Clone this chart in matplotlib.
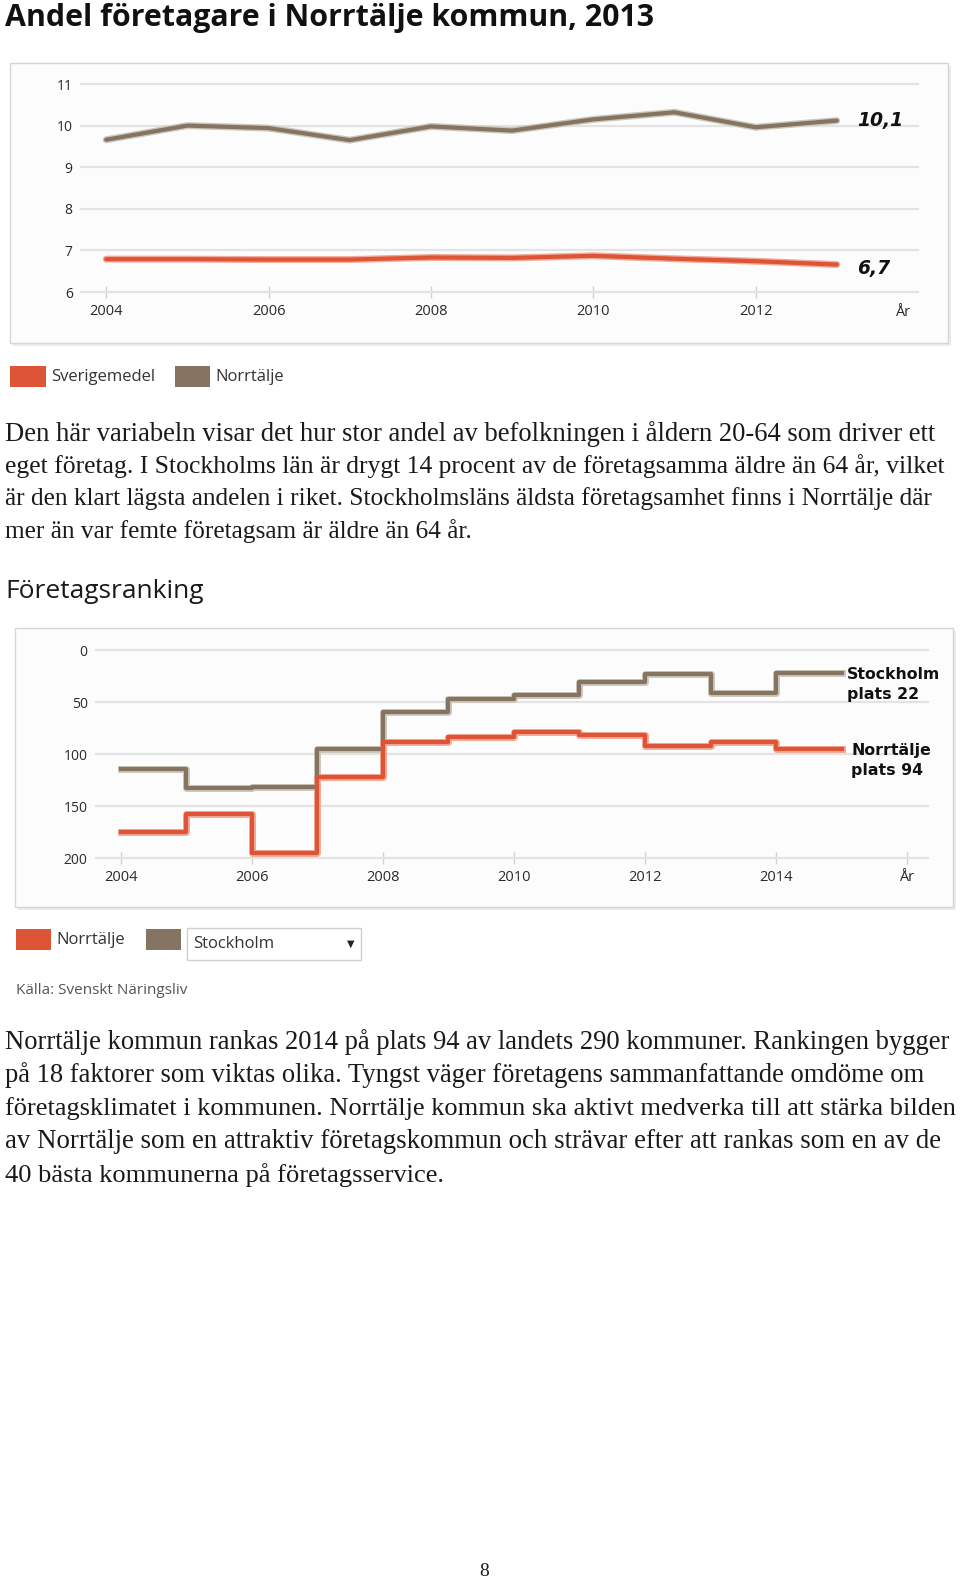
import numpy as np
import matplotlib.pyplot as plt
from matplotlib.patches import Rectangle

W, H = 960, 1582

# Andel företagare (procent av befolkningen 20-64)
years_andel = [2004, 2005, 2006, 2007, 2008, 2009, 2010, 2011, 2012, 2013]
norrtalje_andel = [9.66, 10.0, 9.94, 9.65, 9.98, 9.88, 10.15, 10.32, 9.96, 10.12]
sverige_andel = [6.79, 6.79, 6.78, 6.78, 6.83, 6.82, 6.87, 6.80, 6.74, 6.66]

# Företagsranking (plats)
years_rank = [2004, 2005, 2006, 2007, 2008, 2009, 2010, 2011, 2012, 2013, 2014]
norrtalje_rank = [175, 158, 195, 122, 88, 84, 79, 82, 92, 88, 95]
stockholm_rank = [114, 133, 132, 95, 60, 47, 43, 31, 23, 41, 22]

text1 = [
    "Den här variabeln visar det hur stor andel av befolkningen i åldern 20-64 som driver ett",
    "eget företag. I Stockholms län är drygt 14 procent av de företagsamma äldre än 64 år, vilket",
    "är den klart lägsta andelen i riket. Stockholmsläns äldsta företagsamhet finns i Norrtälje där",
    "mer än var femte företagsam är äldre än 64 år.",
]
text2 = [
    "Norrtälje kommun rankas 2014 på plats 94 av landets 290 kommuner. Rankingen bygger",
    "på 18 faktorer som viktas olika. Tyngst väger företagens sammanfattande omdöme om",
    "företagsklimatet i kommunen. Norrtälje kommun ska aktivt medverka till att stärka bilden",
    "av Norrtälje som en attraktiv företagskommun och strävar efter att rankas som en av de",
    "40 bästa kommunerna på företagsservice.",
]
# radernas högerkant i bilden (px)
text1_right = [936, 943, 935, 474]
text2_right = [948, 926, 955, 940, 444]

RED = '#de5436'
RED_LIGHT = '#f2ab98'
BROWN = '#857462'
BROWN_LIGHT = '#cfc6bb'
GRID = '#e3e3e3'
SANS = 'Open Sans'
SERIF = 'Liberation Serif'

fig = plt.figure(figsize=(W / 100, H / 100), dpi=100)
fig.patch.set_facecolor('white')
renderer = fig.canvas.get_renderer()


def fx(x):
    return x / W


def fy(y):
    return 1 - y / H


def axes_px(l, t, r, b):
    ax = fig.add_axes([fx(l), fy(b), (r - l) / W, (b - t) / H])
    ax.set_zorder(2)
    return ax


def box_px(l, t, r, b, fc='#fcfcfc', ec='#d6d6d6'):
    fig.patches.append(Rectangle((fx(l) + 3 / W, fy(b) - 3 / H), (r - l) / W, (b - t) / H,
                                 transform=fig.transFigure, fc='#ececec', ec='none', zorder=-5))
    fig.patches.append(Rectangle((fx(l), fy(b)), (r - l) / W, (b - t) / H,
                                 transform=fig.transFigure, fc=fc, ec=ec, lw=1, zorder=-4))


def swatch(l, t, r, b, color):
    fig.patches.append(Rectangle((fx(l), fy(b)), (r - l) / W, (b - t) / H,
                                 transform=fig.transFigure, fc=color, ec='none'))


def paragraph(lines, rights, y0, step):
    for i, line in enumerate(lines):
        t = fig.text(fx(5), fy(y0 + i * step), line, fontsize=18, family=SERIF, va='center',
                     ha='left', color='#1a1a1a')
        w = t.get_window_extent(renderer).width
        t.set_fontsize(18 * (rights[i] - 5) / w)


def style_axes(ax):
    ax.set_facecolor('none')
    for s in ax.spines.values():
        s.set_visible(False)
    ax.grid(axis='y', color=GRID, lw=1.6)
    ax.set_axisbelow(True)
    ax.tick_params(axis='y', length=0, pad=6, labelsize=10, labelcolor='#2a2a2a')
    ax.tick_params(axis='x', direction='inout', length=9, width=1, color='#d0d0d0',
                   pad=4, labelsize=10.5, labelcolor='#2a2a2a')
    for lab in ax.get_xticklabels() + ax.get_yticklabels():
        lab.set_fontfamily(SANS)


# ---- Titel ----
fig.text(fx(5), fy(18), "Andel företagare i Norrtälje kommun, 2013", fontsize=21.9,
         fontweight='bold', family=SANS, va='center', ha='left', color='#111111')

# ---- Diagram 1 ----
box_px(10, 63, 948, 343)
ax1 = axes_px(81, 84, 918, 292)
ax1.plot(years_andel, norrtalje_andel, color=BROWN_LIGHT, lw=5, solid_capstyle='round', zorder=2)
ax1.plot(years_andel, norrtalje_andel, color=BROWN, lw=3, solid_capstyle='round', zorder=3)
ax1.plot(years_andel, sverige_andel, color=RED_LIGHT, lw=5, solid_capstyle='round', zorder=2)
ax1.plot(years_andel, sverige_andel, color=RED, lw=3, solid_capstyle='round', zorder=3)
ax1.set_xlim(2003.69, 2014.0)
ax1.set_ylim(6, 11)
ax1.set_yticks([6, 7, 8, 9, 10, 11])
ax1.set_xticks([2004, 2006, 2008, 2010, 2012])
style_axes(ax1)
for line in ax1.get_ygridlines():
    line.set_clip_on(False)
ax1.text(2013.81, 5.5, "År", ha='center', va='center', fontsize=10.5, family=SANS, color='#2a2a2a')
ax1.text(2013.25, norrtalje_andel[-1], "10,1", fontsize=13.5, fontweight='bold', style='italic',
         family='DejaVu Sans', va='center', ha='left', color='#111111')
ax1.text(2013.25, sverige_andel[-1] - 0.1, "6,7", fontsize=13.5, fontweight='bold', style='italic',
         family='DejaVu Sans', va='center', ha='left', color='#111111')

swatch(10, 366, 46, 387, RED)
fig.text(fx(51), fy(377), "Sverigemedel", fontsize=12, family=SANS, va='center', color='#333333')
swatch(175, 366, 210, 387, BROWN)
fig.text(fx(215), fy(377), "Norrtälje", fontsize=12, family=SANS, va='center', color='#333333')

# ---- Text 1 ----
paragraph(text1, text1_right, 434, 32.3)

fig.text(fx(5), fy(592), "Företagsranking", fontsize=19, family=SANS, va='center',
         ha='left', color='#1a1a1a')

# ---- Diagram 2 ----
box_px(15, 628, 953, 907)
ax2 = axes_px(96, 650, 928, 858)
xs = years_rank + [years_rank[-1] + 1]
ax2.plot(xs, stockholm_rank + [stockholm_rank[-1]], drawstyle='steps-post', color=BROWN_LIGHT,
         lw=5, zorder=2)
ax2.plot(xs, stockholm_rank + [stockholm_rank[-1]], drawstyle='steps-post', color=BROWN,
         lw=3, zorder=3)
ax2.plot(xs, norrtalje_rank + [norrtalje_rank[-1]], drawstyle='steps-post', color=RED_LIGHT,
         lw=5, zorder=2)
ax2.plot(xs, norrtalje_rank + [norrtalje_rank[-1]], drawstyle='steps-post', color=RED,
         lw=3, zorder=3)
ax2.set_xlim(2003.62, 2016.32)
ax2.set_ylim(200, 0)
ax2.set_yticks([0, 50, 100, 150, 200])
ax2.set_xticks([2004, 2006, 2008, 2010, 2012, 2014, 2016])
ax2.set_xticklabels(['2004', '2006', '2008', '2010', '2012', '2014', 'År'])
style_axes(ax2)
for line in ax2.get_ygridlines():
    line.set_clip_on(False)
ax2.text(2015.08, stockholm_rank[-1] + 11, "Stockholm\nplats 22", fontsize=11.3, fontweight='bold',
         family='DejaVu Sans', va='center', ha='left', color='#111111', linespacing=1.45)
ax2.text(2015.15, norrtalje_rank[-1] + 11, "Norrtälje\nplats 94", fontsize=11.3, fontweight='bold',
         family='DejaVu Sans', va='center', ha='left', color='#111111', linespacing=1.45)

swatch(16, 929, 51, 950, RED)
fig.text(fx(56), fy(940), "Norrtälje", fontsize=12, family=SANS, va='center', color='#333333')
swatch(146, 929, 181, 950, BROWN)
fig.patches.append(Rectangle((fx(187), fy(960)), 174 / W, 32 / H, transform=fig.transFigure,
                             fc='white', ec='#cfcfcf', lw=1))
fig.text(fx(193), fy(944), "Stockholm", fontsize=12, family=SANS, va='center', color='#333333')
fig.text(fx(351), fy(944), "▼", fontsize=7, family='DejaVu Sans', va='center', ha='center',
         color='#222222')
fig.text(fx(16), fy(990), "Källa: Svenskt Näringsliv", fontsize=11, family=SANS, va='center',
         color='#555555')

# ---- Text 2 ----
paragraph(text2, text2_right, 1042, 33.3)

fig.text(fx(484), fy(1571), "8", fontsize=14, family=SERIF, va='center', ha='center',
         color='#1a1a1a')

fig.savefig('out.png', dpi=100, facecolor='white')
